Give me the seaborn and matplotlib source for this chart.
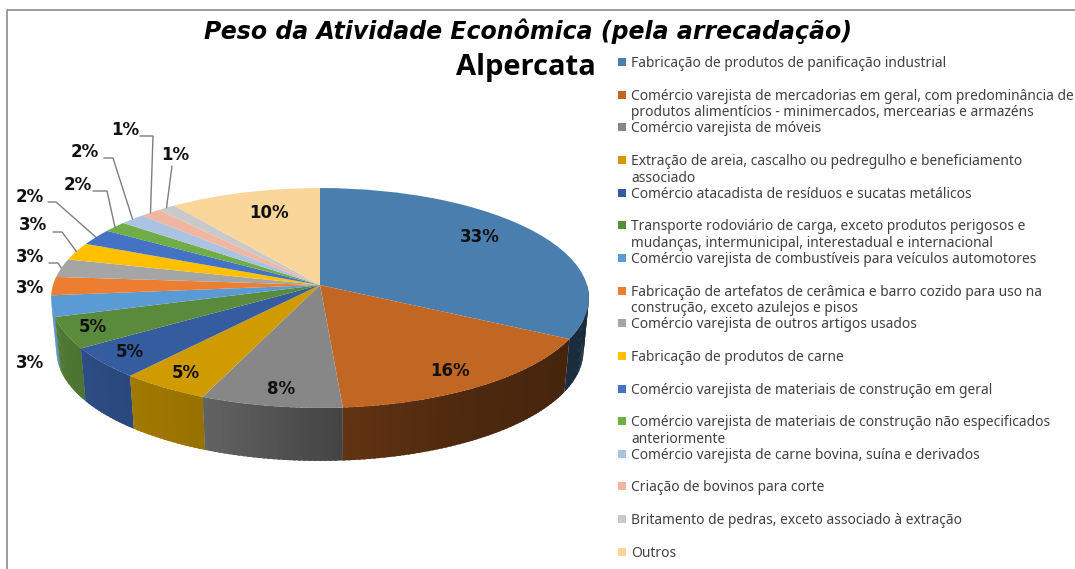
import numpy as np
import matplotlib
matplotlib.use('Agg')
import matplotlib.pyplot as plt
from matplotlib.transforms import Transform
import seaborn as sns

categories = [
    'Fabricação de produtos de panificação industrial',
    'Comércio varejista de mercadorias em geral, com predominância de\nprodutos alimentícios - minimercados, mercearias e armazéns',
    'Comércio varejista de móveis',
    'Extração de areia, cascalho ou pedregulho e beneficiamento\nassociado',
    'Comércio atacadista de resíduos e sucatas metálicos',
    'Transporte rodoviário de carga, exceto produtos perigosos e\nmudanças, intermunicipal, interestadual e internacional',
    'Comércio varejista de combustíveis para veículos automotores',
    'Fabricação de artefatos de cerâmica e barro cozido para uso na\nconstrução, exceto azulejos e pisos',
    'Comércio varejista de outros artigos usados',
    'Fabricação de produtos de carne',
    'Comércio varejista de materiais de construção em geral',
    'Comércio varejista de materiais de construção não especificados\nanteriormente',
    'Comércio varejista de carne bovina, suína e derivados',
    'Criação de bovinos para corte',
    'Britamento de pedras, exceto associado à extração',
    'Outros',
]
values = np.array([32.8, 16.0, 7.6, 4.8, 4.6, 4.6, 3.1, 2.7, 2.7, 2.6, 2.4, 1.6, 1.7, 1.4, 1.2, 10.2])
colors = ['#4A7EAE', '#C26624', '#878787', '#D09B00', '#355C9F', '#5A8A3B', '#5B9BD5', '#ED7D31',
          '#A5A5A5', '#FFC000', '#4472C4', '#70AD47', '#ABC2E3', '#F1B6A0', '#C9C9C9', '#FBD69B']
title = 'Peso da Atividade Econômica (pela arrecadação)'
subtitle = 'Alpercata'

# pie geometry in pixels
CX, CY = 320, 285
RX, RY, K = 267, 108.4, 0.118
DEPTH = 53

# where the percent labels go, and the knee of the leader
label_pos = [(480, 237), (450, 371), (281, 389), (186, 373), (130, 352), (93, 327), (30, 363), (30, 288),
             (30, 257), (33, 225), (30, 197), (78, 185), (85, 152), (125, 130), (175, 155), (269, 213)]
leaders = {8: [(49, 263), (58, 263)], 9: [(53, 232), (62, 232)], 10: [(48, 202), (56, 202)],
           11: [(93, 191), (107, 191)], 12: [(104, 158), (113, 158)], 13: [(140, 136), (153, 136)],
           14: [(172, 166), (172, 166)]}


class PieProjection(Transform):
    input_dims = 2
    output_dims = 2

    def transform_non_affine(self, values):
        values = np.asarray(values)
        d = 1 + K * values[:, 1]
        return np.column_stack([CX + RX * values[:, 0] / d, CY - RY * values[:, 1] / d])


def rim(theta, level=0.0):
    """Pixel position on the pie rim, theta clockwise from the top in degrees."""
    t = np.radians(theta)
    x, y = np.sin(t), np.cos(t)
    d = 1 + K * y
    return CX + RX * (1 - 0.02 * level) * x / d, CY - RY * y / d + DEPTH * level


def shade(color, theta):
    f = np.interp(theta, [90, 120, 150, 175, 200, 250, 270], [0.31, 0.36, 0.40, 0.50, 0.72, 0.88, 0.95])
    return tuple(np.array(matplotlib.colors.to_rgb(color)) * f)


sns.set_theme(style='white')
plt.rcParams['font.family'] = ['Noto Sans', 'DejaVu Sans']

fig = plt.figure(figsize=(10.75, 5.69), dpi=100)
ax = fig.add_axes([0, 0, 1, 1])

palette = sns.color_palette(colors)
wedges, _ = ax.pie(values, colors=palette, startangle=90, counterclock=False,
                   wedgeprops={'linewidth': 0, 'zorder': 3})
proj = PieProjection()
for w in wedges:
    w.set_transform(proj + ax.transData)

ax.set_aspect('auto')
ax.set_xlim(0, 1075)
ax.set_ylim(569, 0)
ax.axis('off')

# side wall, overlapping strips so the shading runs along it without seams
edges = np.concatenate([[0], np.cumsum(values) / values.sum() * 360])
for i, color in enumerate(palette):
    start, stop = max(edges[i], 90), min(edges[i + 1], 262)
    if stop <= start:
        continue
    for a in np.arange(start, stop, 1.0):
        # front strips on top, the wall turns away towards both sides
        b = min(a + 1.6, stop)
        x0, y0 = rim(a)
        x1, y1 = rim(b)
        x2, y2 = rim(b, 1)
        x3, y3 = rim(a, 1)
        ax.fill([x0, x1, x2, x3], [y0, y1, y2, y3], color=shade(color, a), lw=0,
                zorder=2 - 0.5 * np.cos(np.radians(a)))

# percent labels
mids = (edges[:-1] + edges[1:]) / 2
for i, v in enumerate(values):
    ax.text(label_pos[i][0], label_pos[i][1], f'{v:.0f}%', ha='center', va='center',
            family='DejaVu Sans', fontsize=12, fontweight='bold', color='#111111', zorder=5)
    if i in leaders:
        ex, ey = rim(mids[i])
        pts = leaders[i] + [(ex, ey)]
        ax.plot([p[0] for p in pts], [p[1] for p in pts], color='#7F7F7F', lw=1, zorder=4)

# legend, one slot per 32.65 px with the marker on the first line
for i, (name, color) in enumerate(zip(categories, palette)):
    y = 62 + 32.65 * i
    ax.scatter([622], [y], marker='s', s=36, color=color, linewidths=0, zorder=5)
    ax.text(631, y - 6, name, ha='left', va='top', fontsize=9.95, color='#404040',
            linespacing=1.15, zorder=5)

ax.text(528, 31, title, ha='center', va='center', family='DejaVu Sans', fontsize=17, fontweight='bold',
        fontstyle='italic', color='black')
ax.text(526, 67, subtitle, ha='center', va='center', family='Open Sans', fontsize=21, fontweight='bold', color='black')

# chart frame
ax.plot([7, 7, 1075], [569, 10, 10], color='#8C8C8C', lw=1.2, clip_on=False)

fig.savefig('out.png', dpi=100)
